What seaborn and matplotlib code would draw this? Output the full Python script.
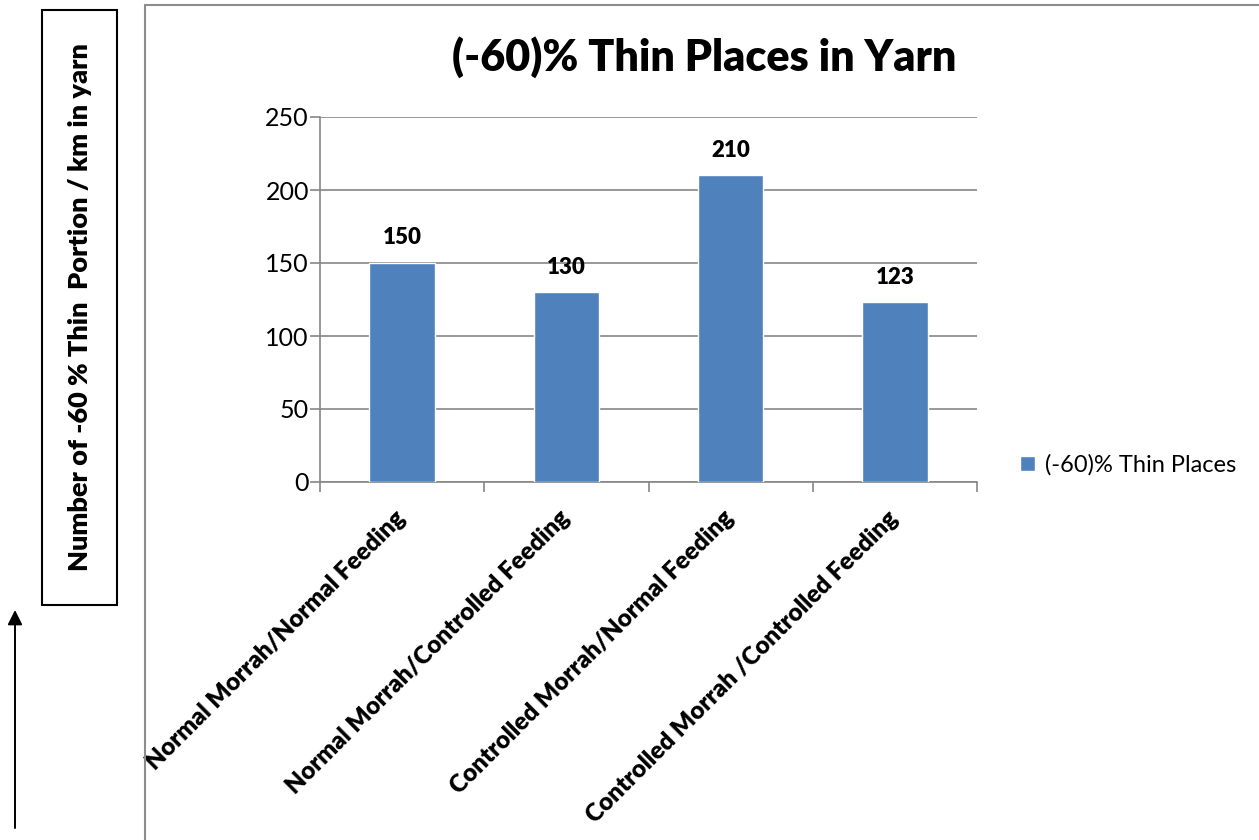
import matplotlib
matplotlib.use("Agg")
import matplotlib.pyplot as plt
import matplotlib.transforms as mtransforms
import seaborn as sns
import pandas as pd
from matplotlib.patches import Rectangle, FancyArrowPatch
from matplotlib.lines import Line2D

# Data
categories = [
    "Normal Morrah/Normal Feeding",
    "Normal Morrah/Controlled Feeding",
    "Controlled Morrah/Normal Feeding",
    "Controlled Morrah /Controlled Feeding",
]
thin_places = [150, 130, 210, 123]
series_name = "(-60)% Thin Places"
chart_title = "(-60)% Thin Places in Yarn"
y_label = "Number of -60 % Thin  Portion / km in yarn"
y_ticks = [0, 50, 100, 150, 200, 250]

sns.set_theme(style="white")
plt.rcParams["font.family"] = ["Lato", "DejaVu Sans"]

W, H = 1259, 840
fig = plt.figure(figsize=(W / 100, H / 100), dpi=100)
fig.patch.set_facecolor("white")

def fx(px):
    return px / W

def fy(py):
    return 1 - py / H

ax = fig.add_axes([fx(320), fy(482), fx(977) - fx(320), fy(117) - fy(482)])

df = pd.DataFrame({"category": categories, "value": thin_places})
sns.barplot(data=df, x="category", y="value", color="#4F81BD", width=0.4,
            saturation=1, ax=ax, label=series_name, zorder=3)

grid_c = "#868686"
ax.set_ylim(0, 250)
ax.set_xlim(-0.5, len(categories) - 0.5)
ax.set_yticks(y_ticks)
ax.set_yticklabels([str(t) for t in y_ticks], fontsize=18, color="black")
ax.yaxis.grid(True, color=grid_c, linewidth=1.2, zorder=0)
ax.set_axisbelow(True)
for s in ["top", "right"]:
    ax.spines[s].set_visible(False)
for s in ["left", "bottom"]:
    ax.spines[s].set_color(grid_c)
    ax.spines[s].set_linewidth(1.2)
ax.tick_params(axis="y", left=True, length=7, width=1.2, color=grid_c, pad=1)

# category boundary ticks
ax.set_xticks([i - 0.5 for i in range(len(categories) + 1)], minor=True)
ax.tick_params(axis="x", which="minor", bottom=True, length=7, width=1.2, color=grid_c)
ax.tick_params(axis="x", which="major", bottom=False, length=0, pad=18)
ax.set_xticks(range(len(categories)))
ax.set_xticklabels(categories, rotation=45, ha="right", va="top",
                   rotation_mode="anchor", fontsize=17.5, fontweight="heavy",
                   color="black")
shift = mtransforms.ScaledTranslation(-8 / 100, 0, fig.dpi_scale_trans)
for lbl in ax.get_xticklabels():
    lbl.set_transform(lbl.get_transform() + shift)
ax.set_xlabel("")
ax.set_ylabel("")

# value labels
for i, v in enumerate(thin_places):
    ax.annotate(str(v), (i, v), xytext=(0, 10.5), textcoords="offset points",
                ha="center", va="bottom", fontsize=16, fontweight="heavy",
                color="black")

fig.text(fx(704), fy(57), chart_title, ha="center", va="center",
         fontsize=31, fontweight="heavy", color="black")

leg = ax.legend(loc="center left", bbox_to_anchor=(fx(1020), fy(465)),
                bbox_transform=fig.transFigure, frameon=False, borderpad=0,
                borderaxespad=0, fontsize=17, handlelength=0.65,
                handleheight=0.65, handletextpad=0.4)
for t in leg.get_texts():
    t.set_color("black")

# chart frame
fig.add_artist(Line2D([fx(145), fx(145)], [0, fy(5)], color="#8c8c8c", lw=1.5,
                      transform=fig.transFigure))
fig.add_artist(Line2D([fx(145), 1], [fy(5), fy(5)], color="#8c8c8c", lw=1.5,
                      transform=fig.transFigure))

# boxed axis title
fig.add_artist(Rectangle((fx(42), fy(605)), fx(117) - fx(42), fy(10) - fy(605),
                         fill=False, edgecolor="black", lw=1.5,
                         transform=fig.transFigure))
fig.text(fx(80), fy(307), y_label, rotation=90, ha="center", va="center",
         fontsize=19.5, fontweight="heavy", color="black")

# upward arrow
fig.add_artist(FancyArrowPatch((fx(15), fy(828)), (fx(15), fy(610)),
                               transform=fig.transFigure, arrowstyle="-|>",
                               mutation_scale=22, color="black", lw=1.4,
                               shrinkA=0, shrinkB=0))

fig.savefig("out.png", dpi=100)
